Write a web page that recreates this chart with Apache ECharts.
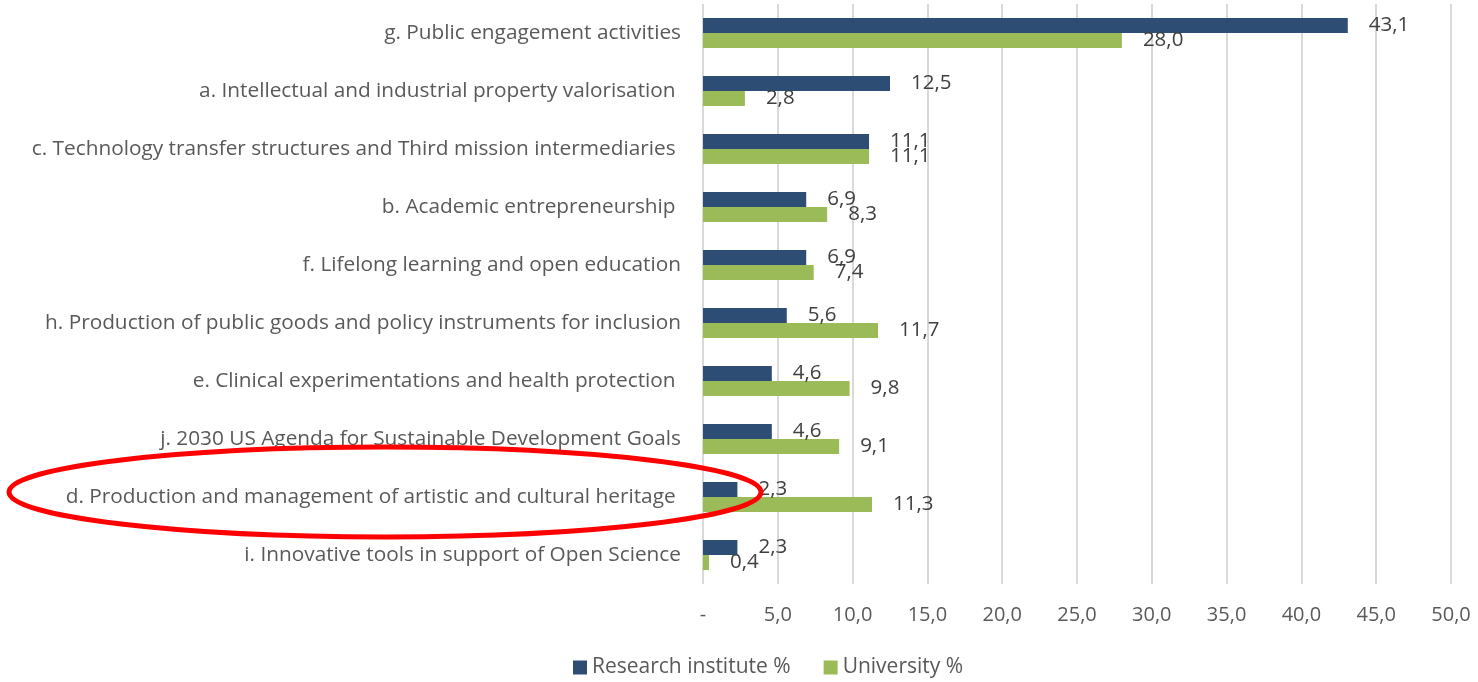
<!DOCTYPE html>
<html>
<head>
<meta charset="utf-8">
<script src="https://cdn.jsdelivr.net/npm/echarts@6/dist/echarts.min.js"></script>
<style>
  html, body { margin: 0; padding: 0; background: #fff; }
  #chart { width: 1478px; height: 682px; }
</style>
</head>
<body>
<div id="chart"></div>
<script>
// categories, top to bottom
const categories = [
  'g. Public engagement activities',
  'a. Intellectual and industrial property valorisation ',
  'c. Technology transfer structures and Third mission intermediaries ',
  'b. Academic entrepreneurship ',
  'f. Lifelong learning and open education',
  'h. Production of public goods and policy instruments for inclusion',
  'e. Clinical experimentations and health protection ',
  'j. 2030 US Agenda for Sustainable Development Goals',
  'd. Production and management of artistic and cultural heritage ',
  'i. Innovative tools in support of Open Science'
]
const researchInstitute = [43.1, 12.5, 11.1, 6.9, 6.9, 5.6, 4.6, 4.6, 2.3, 2.3]
const university = [28.0, 2.8, 11.1, 8.3, 7.4, 11.7, 9.8, 9.1, 11.3, 0.4]
const tickLabels = ['-', '5,0', '10,0', '15,0', '20,0', '25,0', '30,0', '35,0', '40,0', '45,0', '50,0']

const font = '"Open Sans", "Noto Sans", sans-serif'
const fmt = v => v.toFixed(1).replace('.', ',')

const chart = echarts.init(document.getElementById('chart'))

const valueLabel = {
  show: true,
  position: 'right',
  distance: 21,
  color: '#404040',
  fontFamily: font,
  fontSize: 20.5,
  formatter: p => fmt(p.value)
}

chart.setOption({
  animation: false,
  color: ['#2E4D74', '#9BBB59'],
  textStyle: { fontFamily: font },
  grid: {
    left: 703,
    right: 27,
    top: 4,
    bottom: 98,
    containLabel: false
  },
  legend: {
    bottom: -1,
    left: 568,
    icon: 'rect',
    itemWidth: 14,
    itemHeight: 14,
    itemGap: 33,
    textStyle: { color: '#595959', fontSize: 21, fontFamily: font },
    data: ['Research institute %', 'University %']
  },
  xAxis: {
    type: 'value',
    min: 0,
    max: 50,
    interval: 5,
    axisLine: { show: false },
    axisTick: { show: false },
    splitLine: { show: true, lineStyle: { color: '#d9d9d9', width: 2 } },
    axisLabel: {
      color: '#595959',
      fontSize: 20,
      fontFamily: font,
      margin: 21,
      formatter: (v, i) => tickLabels[i]
    }
  },
  yAxis: {
    type: 'category',
    inverse: true,
    data: categories,
    axisLine: { show: false },
    axisTick: { show: false },
    axisLabel: {
      color: '#595959',
      fontSize: 20.8,
      fontFamily: font,
      margin: 22
    }
  },
  series: [
    {
      name: 'Research institute %',
      type: 'bar',
      data: researchInstitute,
      barGap: '0%',
      barCategoryGap: '48%',
      label: valueLabel
    },
    {
      name: 'University %',
      type: 'bar',
      data: university,
      barGap: '0%',
      barCategoryGap: '48%',
      label: valueLabel
    }
  ],
  graphic: [
    {
      // red annotation ellipse around category d
      type: 'ellipse',
      shape: { cx: 385, cy: 492, rx: 376, ry: 45 },
      style: { fill: 'none', stroke: '#ff0000', lineWidth: 5 },
      z: 100
    }
  ]
})
</script>
</body>
</html>
